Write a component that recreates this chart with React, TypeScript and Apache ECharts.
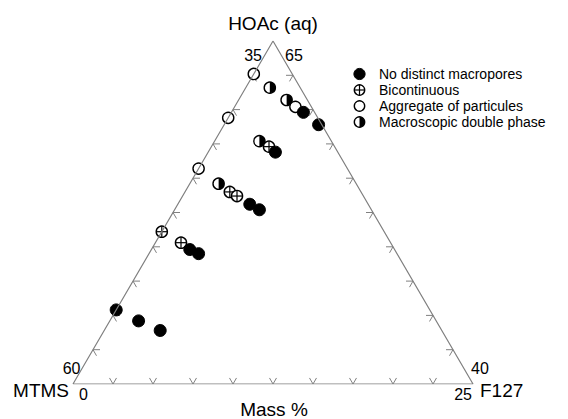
import React, { useEffect, useRef } from "react";
import * as echarts from "echarts";

// Compositions as [MTMS, HOAc(aq), F127] in mass %
const noMacropores: number[][] = [
  [35.7, 59.8, 4.5],
  [35.2, 58.9, 5.9],
  [38.9, 56.9, 4.2],
  [42.4, 53.1, 4.5],
  [42.0, 52.7, 5.3],
  [47.8, 49.8, 2.4],
  [47.4, 49.5, 3.1],
  [54.6, 45.4, 0.0],
  [53.6, 44.6, 1.8],
  [52.6, 43.9, 3.5],
];
const bicontinuous: number[][] = [
  [39.1, 57.3, 3.6],
  [43.2, 54.0, 2.8],
  [42.9, 53.7, 3.4],
  [48.9, 51.1, 0.0],
  [48.1, 50.3, 1.6],
];
const aggregate: number[][] = [
  [37.4, 62.6, 0.0],
  [36.0, 60.2, 3.8],
  [40.6, 59.4, 0.0],
  [44.3, 55.7, 0.0],
];
const doublePhase: number[][] = [
  [36.9, 61.6, 1.5],
  [36.3, 60.7, 3.0],
  [39.5, 57.7, 2.8],
  [43.6, 54.6, 1.8],
];

const seriesNames = [
  "No distinct macropores",
  "Bicontinuous",
  "Aggregate of particules",
  "Macroscopic double phase",
];
const seriesKinds = ["filled", "cross", "open", "half"];

// Sub-triangle: corners (MTMS, HOAc, F127)
const cornerTop = [35, 65, 0];
const cornerLeft = [60, 40, 0];
const cornerRight = [35, 40, 25];
const tickSteps = [2.5, 5, 7.5, 10, 12.5, 15, 17.5, 20, 22.5];

const HOAC_MIN = 40;
const SPAN = 25;
const SQ = Math.sqrt(3) / 2;
const FONT = "'Liberation Sans', Arial, sans-serif";
const LINE = "#808080";

function toXY(p: number[]): number[] {
  const h = p[1] - HOAC_MIN;
  const f = p[2];
  return [f + h / 2, h * SQ];
}

function markerShape(kind: string, cx: number, cy: number, r: number): any {
  const children: any[] = [];
  if (kind === "filled") {
    children.push({ type: "circle", shape: { cx, cy, r }, style: { fill: "#000", stroke: "#000", lineWidth: 1 } });
  } else {
    children.push({ type: "circle", shape: { cx, cy, r: r - 0.4 }, style: { fill: "#fff", stroke: "#000", lineWidth: 1.4 } });
  }
  if (kind === "cross") {
    children.push({ type: "line", shape: { x1: cx - r + 0.5, y1: cy, x2: cx + r - 0.5, y2: cy }, style: { stroke: "#000", lineWidth: 1.2 } });
    children.push({ type: "line", shape: { x1: cx, y1: cy - r + 0.5, x2: cx, y2: cy + r - 0.5 }, style: { stroke: "#000", lineWidth: 1.2 } });
  }
  if (kind === "half") {
    children.push({
      type: "sector",
      shape: { cx, cy, r0: 0, r: r - 0.4, startAngle: -Math.PI / 2, endAngle: Math.PI / 2, clockwise: true },
      style: { fill: "#000" },
    });
  }
  return { type: "group", children };
}

function markerSeries(name: string, kind: string, data: number[][]) {
  return {
    type: "custom",
    name,
    clip: false,
    data: data.map(toXY),
    encode: { x: 0, y: 1 },
    renderItem: (_p: any, api: any) => {
      const pt = api.coord([api.value(0), api.value(1)]);
      return markerShape(kind, pt[0], pt[1], 6);
    },
  };
}

export default function App() {
  const ref = useRef<HTMLDivElement>(null);
  useEffect(() => {
    if (!ref.current) return;
    const chart = echarts.init(ref.current, undefined, { renderer: "svg" });

    const triangle = [cornerLeft, cornerRight, cornerTop, cornerLeft].map(toXY);
    const ticks: number[][] = [];
    tickSteps.forEach((t) => {
      ticks.push([t, 0, 0]); // bottom (F127)
      ticks.push([t / 2, t * SQ, 1]); // left side
      ticks.push([SPAN - t / 2, t * SQ, 2]); // right side
    });
    const L = 7;
    const arms: Record<number, number[][]> = {
      0: [[-L * 0.5, -L * SQ], [L * 0.5, -L * SQ]],
      1: [[L, 0], [L * 0.5, L * SQ]],
      2: [[-L, 0], [-L * 0.5, L * SQ]],
    };

    const txt = (text: string, x: number, y: number, size: number, align: string) => ({
      type: "text",
      x,
      y,
      style: { text, fontSize: size, fontFamily: FONT, fill: "#000", align, verticalAlign: "middle" },
    });

    const legendRows = [74, 90, 106, 122];
    const legendGraphics: any[] = [];
    seriesNames.forEach((n, i) => {
      legendGraphics.push(markerShape(seriesKinds[i], 359.5, legendRows[i], 5.6));
      legendGraphics.push(txt(n, 379, legendRows[i], 14, "left"));
    });

    const order = [3, 1, 2, 0];
    const dataSets = [noMacropores, bicontinuous, aggregate, doublePhase];

    chart.setOption({
      animation: false,
      backgroundColor: "#fff",
      grid: { left: 73, width: 400, top: 41, height: 343 },
      xAxis: { type: "value", min: 0, max: SPAN, show: false },
      yAxis: { type: "value", min: 0, max: SPAN * SQ, show: false },
      series: [
        {
          type: "line",
          data: triangle,
          symbol: "none",
          lineStyle: { color: LINE, width: 1.2 },
          silent: true,
        },
        {
          type: "custom",
          clip: false,
          silent: true,
          data: ticks,
          encode: { x: 0, y: 1 },
          renderItem: (_p: any, api: any) => {
            const pt = api.coord([api.value(0), api.value(1)]);
            const a = arms[api.value(2)];
            return {
              type: "polyline",
              shape: {
                points: [
                  [pt[0] + a[0][0], pt[1] + a[0][1]],
                  [pt[0], pt[1]],
                  [pt[0] + a[1][0], pt[1] + a[1][1]],
                ],
              },
              style: { stroke: LINE, fill: "none", lineWidth: 1 },
            };
          },
        },
        ...order.map((i) => markerSeries(seriesNames[i], seriesKinds[i], dataSets[i])),
      ],
      graphic: [
        txt("HOAc (aq)", 273, 23, 19, "center"),
        txt("35", 262, 55, 16, "right"),
        txt("65", 285, 55, 16, "left"),
        txt("60", 80.5, 368.5, 16, "right"),
        txt("0", 79, 394, 16, "left"),
        txt("MTMS", 69, 390.5, 19, "right"),
        txt("40", 471, 368, 16, "left"),
        txt("25", 472, 394, 16, "right"),
        txt("F127", 480, 390.5, 19, "left"),
        txt("Mass %", 274, 409, 19, "center"),
        ...legendGraphics,
      ],
    });
    return () => chart.dispose();
  }, []);
  return (
    <div
      ref={ref}
      style={{ position: "absolute", left: 0, top: 0, width: 568, height: 419, background: "#fff" }}
    />
  );
}
